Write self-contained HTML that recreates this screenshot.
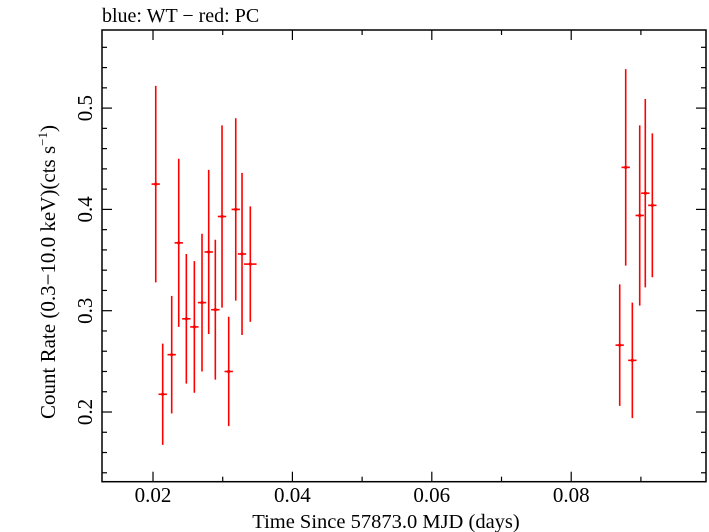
<!DOCTYPE html>
<html><head><meta charset="utf-8"><style>
body{margin:0;background:#fff}
svg{display:block;font-family:"Liberation Serif",serif}
</style></head><body>
<svg id="chart" width="709" height="532" viewBox="0 0 709 532" xmlns="http://www.w3.org/2000/svg">
<text x="102" y="22" font-size="20">blue: WT − red: PC</text>
<rect x="102" y="30" width="604" height="451.7" fill="none" stroke="#000" stroke-width="1.5"/>
<g id="axes"></g>
<g id="marks"></g>
<text x="386" y="528" font-size="20.5" text-anchor="middle">Time Since 57873.0 MJD (days)</text>
<text transform="translate(55,272) rotate(-90)" font-size="21" text-anchor="middle">Count Rate (0.3−10.0 keV)(cts s<tspan font-size="13" dy="-8">−1</tspan><tspan dy="8">)</tspan></text>
</svg>
<script>
const times=[0.02039,0.02139,0.02268,0.02369,0.02478,0.02593,0.02703,0.02799,0.02894,0.0299,0.03086,0.03187,0.03277,0.03396,0.08696,0.08782,0.08877,0.08983,0.09063,0.09164];
const timeErr=[0.0006,0.0006,0.0006,0.0006,0.0006,0.0006,0.0006,0.0006,0.0006,0.0006,0.0006,0.0006,0.0006,0.0009,0.0006,0.0006,0.0006,0.0006,0.0006,0.0006];
const rates=[0.425,0.2175,0.2566,0.367,0.292,0.284,0.308,0.358,0.301,0.393,0.24,0.4,0.356,0.346,0.266,0.4415,0.251,0.394,0.416,0.404];
const rateErr=[0.097,0.05,0.058,0.083,0.064,0.065,0.068,0.081,0.069,0.09,0.054,0.09,0.08,0.057,0.06,0.097,0.057,0.089,0.093,0.071];
const xTicks=[0.02,0.04,0.06,0.08];
const xTickLabels=["0.02","0.04","0.06","0.08"];
const yTicks=[0.2,0.3,0.4,0.5];
const yTickLabels=["0.2","0.3","0.4","0.5"];
const L=102,R=706,T=30,B=481.7,x0=0.01268,x1=0.09934,y0=0.1312,y1=0.5771;
const X=v=>L+(v-x0)/(x1-x0)*(R-L);
const Y=v=>B-(v-y0)/(y1-y0)*(B-T);
const NS="http://www.w3.org/2000/svg";
function mk(tag,attrs,parent){const e=document.createElementNS(NS,tag);for(const k in attrs)e.setAttribute(k,attrs[k]);parent.appendChild(e);return e;}
const ax=document.getElementById('axes'),mg=document.getElementById('marks');
for(let i=1;i<=9;i++){const v=i*0.01,x=X(v);if(x<L||x>R)continue;const len=(i%2===0)?10:5;
 let a=mk('line',{x1:x,x2:x,y1:B,y2:B-len,stroke:'#000','stroke-width':1.2},ax);
 
 
 let b=mk('line',{x1:x,x2:x,y1:T,y2:T+len,stroke:'#000','stroke-width':1.2},ax);
 
 }
for(let i=7;i<=28;i++){const v=i*0.02,y=Y(v);if(y<T||y>B)continue;const len=(i%5===0)?10:5;
 let a=mk('line',{x1:L,x2:L+len,y1:y,y2:y,stroke:'#000','stroke-width':1.2},ax);
 
 
 let b=mk('line',{x1:R,x2:R-len,y1:y,y2:y,stroke:'#000','stroke-width':1.2},ax);
 
 }
xTicks.forEach((v,i)=>{const t=mk('text',{x:X(v),y:502,'font-size':21,'text-anchor':'middle'},ax);t.textContent=xTickLabels[i];
 
 });
yTicks.forEach((v,i)=>{const t=mk('text',{transform:`translate(92,${Y(v)}) rotate(-90)`,'font-size':21,'text-anchor':'middle'},ax);t.textContent=yTickLabels[i];
 
 });
times.forEach((t,i)=>{const g=mk('g',{stroke:'#f00','stroke-width':1.6},mg);
 
 
 mk('line',{x1:X(t),x2:X(t),y1:Y(rates[i]-rateErr[i]),y2:Y(rates[i]+rateErr[i])},g);
 mk('line',{x1:X(t-timeErr[i]),x2:X(t+timeErr[i]),y1:Y(rates[i]),y2:Y(rates[i])},g);
 mk('circle',{cx:X(t),cy:Y(rates[i]),r:1.6,fill:'#f00',stroke:'none'},g);});
</script>
</body></html>
